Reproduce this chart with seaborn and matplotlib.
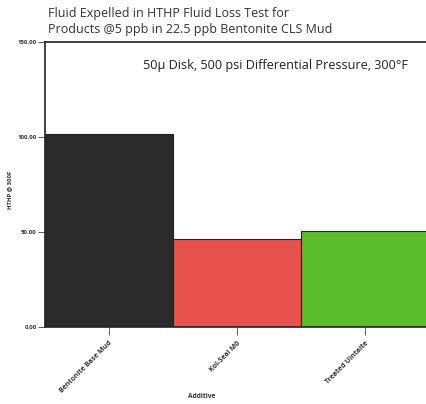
import matplotlib
matplotlib.use("Agg")
import matplotlib.pyplot as plt
import seaborn as sns
import pandas as pd

categories = ["Bentonite Base Mud", "Kol-Seal M0", "Treated Uintaite"]
values = [101.7, 46.4, 50.5]
colors = ["#2b2b2b", "#e8524e", "#5cbd2c"]
yticks = [0, 50, 100, 150]

sns.set_theme(style="white")
plt.rcParams['font.family'] = ['Open Sans', 'DejaVu Sans']

df = pd.DataFrame({"Additive": categories, "HTHP @ 300F": values})

fig = plt.figure(figsize=(4.27, 4.04), dpi=100)
ax = fig.add_axes([0.105, 0.19, 0.895, 0.707])
sns.barplot(data=df, x="Additive", y="HTHP @ 300F", hue="Additive",
            palette=colors, width=1.0, edgecolor="#222222", linewidth=0.8,
            legend=False, ax=ax, saturation=1)

ax.set_xlim(-0.5, 2.48)
ax.set_ylim(0, 150)
ax.set_yticks(yticks)
ax.set_yticklabels([f"{v:.2f}" for v in yticks], fontsize=4.3, fontweight="bold", color="#333333")
ax.set_xticks(range(len(categories)))
ax.set_xticklabels(categories, rotation=45, ha="right", rotation_mode="anchor",
                   fontsize=5, fontweight="bold", color="#333333")
ax.tick_params(axis="x", which="major", length=6, width=0.6, color="#444444", pad=3,
               bottom=True, direction="out")
ax.tick_params(axis="y", which="major", length=5, width=0.6, color="#444444", pad=1,
               left=True, direction="out")
ax.set_ylabel("HTHP @ 300F", fontsize=4.3, fontweight="bold", color="#333333", va="center")
ax.yaxis.set_label_coords(-0.092, 0.48)
ax.set_xlabel("Additive", fontsize=4.8, fontweight="bold", color="#333333", va="center")
ax.xaxis.set_label_coords(0.41, -0.244)
for s in ax.spines.values():
    s.set_color("#222222")
    s.set_linewidth(1.2)

fig.text(48/427, 1 - 14/404, "Fluid Expelled in HTHP Fluid Loss Test for",
         fontsize=9, color="#333333", ha="left", va="center")
fig.text(48/427, 1 - 30/404, "Products @5 ppb in 22.5 ppb Bentonite CLS Mud",
         fontsize=9, color="#333333", ha="left", va="center")
ax.text(143/427, 1 - 65/404, "50µ Disk, 500 psi Differential Pressure, 300°F",
        transform=fig.transFigure, fontsize=9.1, color="#222222", ha="left", va="center")

fig.savefig("out.png", dpi=100)
